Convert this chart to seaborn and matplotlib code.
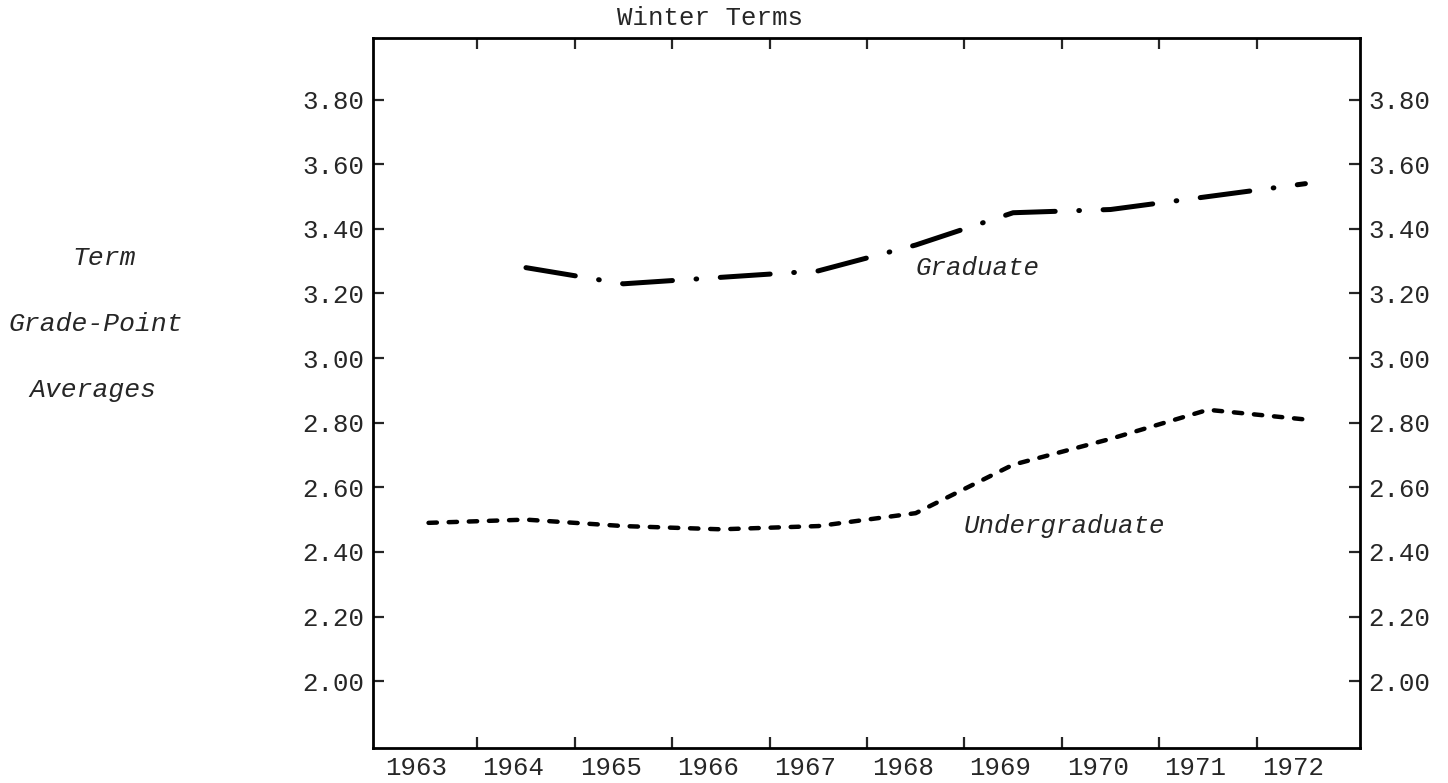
import numpy as np
import pandas as pd
import matplotlib
matplotlib.use("Agg")
import matplotlib.pyplot as plt
import seaborn as sns

# Data (winter terms)
grad_years = [1964, 1965, 1966, 1967, 1968, 1969, 1970, 1971, 1972]
graduate = [3.28, 3.23, 3.25, 3.27, 3.35, 3.45, 3.46, 3.50, 3.54]

undergrad_years = [1963, 1964, 1965, 1966, 1967, 1968, 1969, 1970, 1971, 1972]
undergraduate = [2.49, 2.50, 2.48, 2.47, 2.48, 2.52, 2.67, 2.75, 2.84, 2.81]

year_labels = [str(y) for y in range(1963, 1973)]
y_ticks = [2.00, 2.20, 2.40, 2.60, 2.80, 3.00, 3.20, 3.40, 3.60, 3.80]

sns.set_style("ticks")
plt.rcParams['font.family'] = ['Liberation Mono', 'DejaVu Sans Mono']
plt.rcParams['lines.scale_dashes'] = False

fig = plt.figure(figsize=(14.48, 7.83), dpi=100)
ax = fig.add_axes([0.2576, 0.0447, 0.6816, 0.9068])

grad_df = pd.DataFrame({"year": grad_years, "gpa": graduate})
ug_df = pd.DataFrame({"year": undergrad_years, "gpa": undergraduate})

sns.lineplot(data=grad_df, x="year", y="gpa", ax=ax, color="black", lw=3.6,
             linestyle=(0, (36, 17, 0.5, 17)), dash_capstyle="round")
sns.lineplot(data=ug_df, x="year", y="gpa", ax=ax, color="black", lw=3.2,
             linestyle=(0, (6, 8.5)), dash_capstyle="round")

ax.set_xlim(1962.43, 1972.56)
ax.set_ylim(1.793, 3.991)

# tick marks sit between the years, labels under the years
ax.set_xticks([y + 0.5 for y in range(1963, 1972)])
ax.set_xticklabels([])
ax.set_xticks([y - 0.13 for y in range(1963, 1973)], minor=True)
ax.set_xticklabels(year_labels, minor=True, fontsize=18.5)
ax.tick_params(axis="x", which="major", direction="in", length=8, width=1.6,
               top=True, bottom=True)
ax.tick_params(axis="x", which="minor", length=0, pad=6)

ax.set_yticks(y_ticks)
ax.set_yticklabels([f"{v:.2f}" for v in y_ticks], fontsize=18.5)
ax.tick_params(axis="y", direction="in", length=8, width=1.6, pad=6,
               left=True, right=True, labelleft=True, labelright=True)

for side in ["left", "right", "top", "bottom"]:
    ax.spines[side].set_visible(True)
    ax.spines[side].set_linewidth(2)
    ax.spines[side].set_color("black")

ax.set_xlabel("")
ax.set_ylabel("")

ax.text(1968.0, 3.28, "Graduate", fontsize=18.5, fontstyle="italic",
        ha="left", va="center")
ax.text(1968.49, 2.48, "Undergraduate", fontsize=18.5, fontstyle="italic",
        ha="left", va="center")

fig.text(0.49, 0.977, "Winter Terms", fontsize=18.5, ha="center", va="center")
fig.text(0.072, 1 - 258 / 783, "Term", fontsize=19, fontstyle="italic",
         ha="center", va="center")
fig.text(0.066, 1 - 324 / 783, "Grade-Point", fontsize=19, fontstyle="italic",
         ha="center", va="center")
fig.text(0.064, 1 - 390 / 783, "Averages", fontsize=19, fontstyle="italic",
         ha="center", va="center")

fig.savefig("out.png", dpi=100, facecolor="white")
